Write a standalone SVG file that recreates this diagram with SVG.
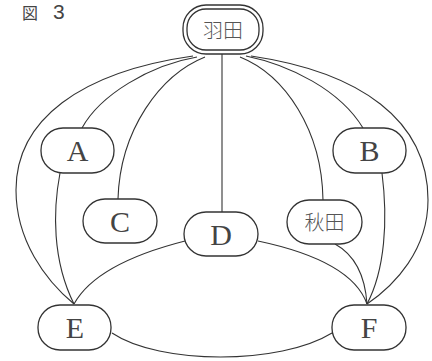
<svg xmlns="http://www.w3.org/2000/svg" width="432" height="361" viewBox="0 0 432 361">
<style>
.node{fill:#fff;stroke:#333;stroke-width:1.3}
.edge{fill:none;stroke:#333;stroke-width:1.1}
.lbl{font-family:"Liberation Serif",serif;font-size:30px;fill:#444;text-anchor:middle}
.jp{font-family:"Noto Sans CJK JP",sans-serif;font-size:20px;fill:#555;text-anchor:middle;font-weight:300}
.title{fill:#444}
</style>
<rect width="432" height="361" fill="#fff"/>
<text class="title" x="22" y="19" font-size="16" font-family="'Noto Sans CJK JP',sans-serif">図</text>
<text class="title" x="53" y="19" font-size="21" font-family="'Liberation Sans',sans-serif">3</text>
<g id="connectors">
<path class="edge" d="M193,56 C80,72 16,120 16,190 C16,240 45,280 74,304"/>
<path class="edge" d="M197,57 C150,65 100,95 82,128"/>
<path class="edge" d="M60,173 C53,210 52,260 74,304"/>
<path class="edge" d="M205,57 C160,75 120,130 118,199"/>
<path class="edge" d="M222,54 L222,212"/>
<path class="edge" d="M240,57 C285,75 322,130 323,200"/>
<path class="edge" d="M246,56 C290,65 340,90 363,128"/>
<path class="edge" d="M382,173 C388,220 385,270 367,304"/>
<path class="edge" d="M251,56 C360,72 428,120 428,200 C428,250 395,285 367,304"/>
<path class="edge" d="M258,241 C310,252 355,270 367,304"/>
<path class="edge" d="M335,244 C355,255 365,275 367,304"/>
<path class="edge" d="M185,241 C130,255 90,275 74,304"/>
<path class="edge" d="M112,333 C160,365 280,365 332,333"/>
</g>
<g id="haneda">
<rect class="node" x="183" y="5" width="80" height="49" rx="23"/>
<rect class="node" x="187" y="9" width="72" height="41" rx="19"/>
<text class="jp" x="223" y="38">羽田</text>
</g>
<g id="A"><rect class="node" x="41" y="128" width="73" height="45" rx="22"/><text class="lbl" x="77.5" y="161">A</text></g>
<g id="B"><rect class="node" x="333" y="128" width="73" height="45" rx="22"/><text class="lbl" x="369.5" y="161">B</text></g>
<g id="C"><rect class="node" x="83" y="199" width="74" height="44" rx="22"/><text class="lbl" x="120" y="232">C</text></g>
<g id="D"><rect class="node" x="184" y="212" width="74" height="44" rx="22"/><text class="lbl" x="221" y="245">D</text></g>
<g id="akita"><rect class="node" x="287" y="200" width="75" height="44" rx="22"/><text class="jp" x="324.5" y="230">秋田</text></g>
<g id="E"><rect class="node" x="38" y="305" width="73" height="45" rx="22"/><text class="lbl" x="75" y="338">E</text></g>
<g id="F"><rect class="node" x="332" y="305" width="74" height="45" rx="22"/><text class="lbl" x="369" y="338">F</text></g>
</svg>
